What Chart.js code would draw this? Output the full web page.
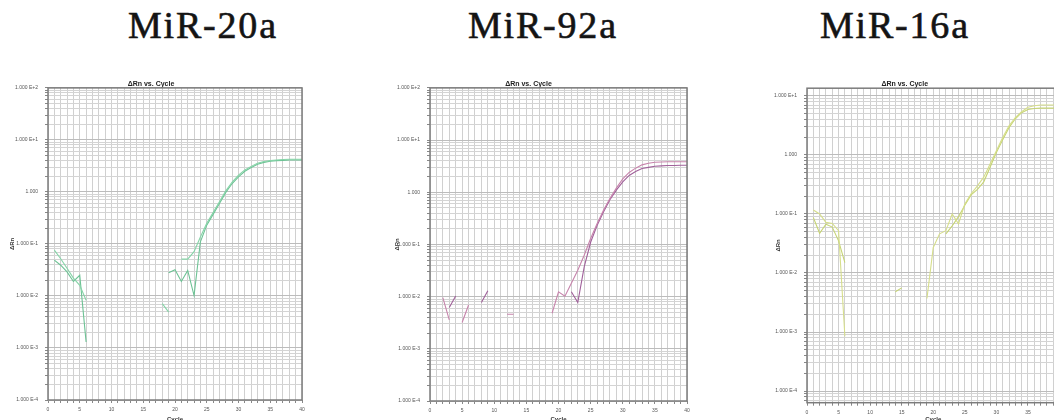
<!DOCTYPE html>
<html><head><meta charset="utf-8">
<script src="https://cdn.jsdelivr.net/npm/chart.js@4.4.1/dist/chart.umd.min.js"></script>
<style>
html,body{margin:0;padding:0;width:1054px;height:420px;overflow:hidden;background:#fff;position:relative}
.h{position:absolute;top:6px;font-family:"Liberation Serif",serif;font-size:38px;line-height:38px;letter-spacing:1.8px;color:#141414;white-space:nowrap;-webkit-text-stroke:0.6px #141414}
canvas{position:absolute}
</style></head><body>
<div class="h" style="left:128px">MiR-20a</div>
<div class="h" style="left:468px">MiR-92a</div>
<div class="h" style="left:820px">MiR-16a</div>
<canvas id="c1" width="320" height="370" style="left:0px;top:60px"></canvas>
<canvas id="c2" width="340" height="370" style="left:370px;top:60px"></canvas>
<canvas id="c3" width="330" height="370" style="left:750px;top:60px"></canvas>
<script>
const cycles = [1,2,3,4,5,6,7,8,9,10,11,12,13,14,15,16,17,18,19,20,21,22,23,24,25,26,27,28,29,30,31,32,33,34,35,36,37,38,39,40];
const titles = ['MiR-20a','MiR-92a','MiR-16a'];
const xTickLabels = [0,5,10,15,20,25,30,35,40];

// MiR-20a (ΔRn, two replicates; null = not plottable on log scale)
const mir20a_rep1 = [0.076,0.052,0.034,0.022,0.016,0.0083,null,null,null,null,null,null,null,null,null,null,null,0.0071,0.0049,null,0.051,0.051,0.071,0.136,0.25,0.40,0.65,1.05,1.55,2.1,2.65,3.1,3.55,3.85,4.0,4.1,4.2,4.25,4.25,4.25];
const mir20a_rep2 = [0.049,0.039,0.029,0.019,0.025,0.0013,null,null,null,null,null,null,null,null,null,null,null,null,0.028,0.032,0.019,0.031,0.0102,0.11,0.23,0.37,0.6,0.98,1.45,1.95,2.5,2.95,3.4,3.7,3.9,4.0,4.05,4.1,4.1,4.1];

// MiR-92a
const mir92a_rep1 = [null,0.0096,0.0036,null,0.0032,0.0069,null,null,null,null,null,0.0046,0.0046,null,null,null,null,null,0.0048,0.0124,0.0102,0.018,0.032,0.062,0.13,0.25,0.45,0.76,1.2,1.8,2.4,2.9,3.35,3.6,3.75,3.8,3.85,3.85,3.85,3.85];
const mir92a_rep2 = [null,null,0.0062,0.0103,null,null,null,0.0077,0.013,null,null,null,null,null,null,null,null,null,null,null,null,0.0124,0.0077,0.037,0.11,0.23,0.42,0.72,1.1,1.58,2.1,2.5,2.85,3.0,3.15,3.2,3.25,3.25,3.3,3.3];

// MiR-16a
const mir16a_rep1 = [0.117,0.10,0.072,0.069,0.052,0.00085,null,null,null,null,null,null,null,null,null,null,null,null,0.0037,0.027,0.046,0.052,0.10,0.068,0.148,0.22,0.30,0.42,0.70,1.18,1.98,3.1,4.3,5.4,6.4,6.8,7.0,7.0,7.0,6.9];
const mir16a_rep2 = [0.087,0.047,0.067,0.06,0.035,0.015,null,null,null,null,null,null,null,0.0048,0.0056,null,null,null,null,null,null,0.046,0.063,0.09,0.14,0.21,0.26,0.35,0.62,1.1,1.8,2.9,4.1,5.2,5.9,6.1,6.2,6.2,6.2,6.2];

function pts(vals){ return cycles.map((c,i)=>({x:c, y:vals[i]})); }
function isDecade(v){ const l=Math.log10(v); return Math.abs(l-Math.round(l))<1e-9; }
function fmtDecade(v){ const e=Math.round(Math.log10(v)); return e===0 ? '1.000' : '1.000 E' + (e>0?'+'+e:e); }
function logGrid(min,max){
  const t=[];
  for(let e=Math.floor(Math.log10(min)); e<=Math.ceil(Math.log10(max)); e++){
    for(let s=1;s<=9;s++){
      const v=+(s*Math.pow(10,e)).toPrecision(3);
      if(v>=min*0.9999 && v<=max*1.0001) t.push({value:v});
    }
  }
  return t;
}
const frame = {id:'frame', afterDraw(chart){
  const {ctx, chartArea:a} = chart;
  ctx.save(); ctx.strokeStyle='#7c7c7c'; ctx.lineWidth=1.5;
  ctx.strokeRect(a.left,a.top,a.right-a.left,a.bottom-a.top); ctx.restore();
}};
const tickFont = {family:'"Liberation Sans", Arial, sans-serif', size:5};

function makeChart(id, g, sets){
  return new Chart(document.getElementById(id), {
    type:'line',
    data:{datasets: sets.map(s=>({data:pts(s.vals), borderColor:s.color, borderWidth:1.1, pointRadius:0, tension:0, spanGaps:false, fill:false}))},
    options:{
      responsive:false, animation:false, devicePixelRatio:1,
      layout:{padding:{top:g.T, right:g.R, left:0, bottom:0}},
      plugins:{
        legend:{display:false}, tooltip:{enabled:false},
        title:{display:true, text:'ΔRn vs. Cycle', color:'#222', font:{family:'"Liberation Sans", Arial, sans-serif', size:7, weight:'bold'}, padding:{top:0,bottom:0}}
      },
      scales:{
        x:{type:'linear', min:0, max:40,
          afterFit:s=>{s.height=g.xH;},
          ticks:{stepSize:1, autoSkip:false, maxRotation:0, padding:g.xPad, color:'#555', font:tickFont,
            callback:v=> xTickLabels.includes(v) ? String(v) : ''},
          grid:{color:'#d0d0d0', lineWidth:1, tickLength:3, tickColor:'#888'},
          border:{display:false},
          title:{display:true, text:'Cycle', color:'#333', font:{family:'"Liberation Sans", Arial, sans-serif', size:6, weight:'bold'}, padding:{top:0,bottom:7.4}}
        },
        y:{type:'logarithmic', min:g.yMin, max:g.yMax, position:'left',
          afterFit:s=>{s.width=g.yW;},
          afterBuildTicks:ax=>{ax.ticks=logGrid(g.yMin,g.yMax);},
          ticks:{autoSkip:false, padding:7, color:'#555', font:tickFont,
            callback:v=> isDecade(v) ? fmtDecade(v) : ''},
          grid:{color:c=> (c.tick && isDecade(c.tick.value)) ? '#bcbcbc' : '#d4d4d4', lineWidth:1, tickLength:3, tickColor:'#888'},
          border:{display:false},
          title:{display:true, text:'ΔRn', color:'#333', font:{family:'"Liberation Sans", Arial, sans-serif', size:6, weight:'bold'}, padding:{top:g.yTitlePad,bottom:0}}
        }
      }
    },
    plugins:[frame]
  });
}

makeChart('c1', {T:19.5, R:18, yW:48, xH:30, xPad:4, yMin:1e-4, yMax:1e2, yTitlePad:8.4}, [
  {vals:mir20a_rep1, color:'#86d4a8'}, {vals:mir20a_rep2, color:'#6cc294'}]);
makeChart('c2', {T:19.5, R:23, yW:60, xH:29, xPad:4, yMin:1e-4, yMax:1e2, yTitlePad:23.4}, [
  {vals:mir92a_rep1, color:'#c784ac'}, {vals:mir92a_rep2, color:'#a0609a'}]);
makeChart('c3', {T:19.8, R:20.5, yW:57, xH:27.3, xPad:3.6, yMin:6.35e-5, yMax:13.5, yTitlePad:24.4}, [
  {vals:mir16a_rep1, color:'#d6de8a'}, {vals:mir16a_rep2, color:'#c6d474'}]);
</script>
</body></html>
